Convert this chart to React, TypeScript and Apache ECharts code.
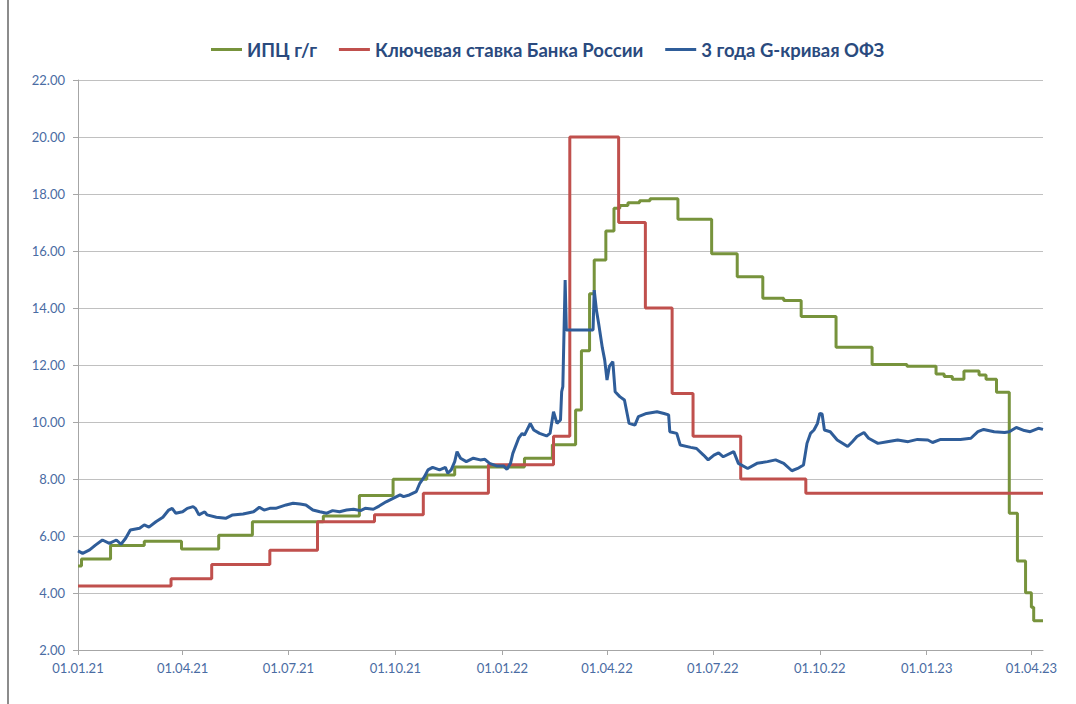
import React, { useEffect, useRef } from "react";
import * as echarts from "echarts";

// ---- Data ----
const seriesNames = ["ИПЦ г/г", "Ключевая ставка Банка России", "3 года G-кривая ОФЗ"];

const xMinDate = "2021-01-01";
const xMaxDate = "2023-04-11";
const xTickDates = [
  "2021-01-01", "2021-04-01", "2021-07-01", "2021-10-01", "2022-01-01",
  "2022-04-01", "2022-07-01", "2022-10-01", "2023-01-01", "2023-04-01",
];

const cpiDates = [
  "2021-01-01", "2021-01-04", "2021-01-29", "2021-02-27", "2021-03-31", "2021-05-02",
  "2021-05-31", "2021-07-31", "2021-08-31", "2021-09-29", "2021-10-28", "2021-11-21",
  "2022-01-20", "2022-02-13", "2022-03-05", "2022-03-10", "2022-03-17", "2022-03-21",
  "2022-03-31", "2022-04-07", "2022-04-12", "2022-04-19", "2022-04-29", "2022-05-08",
  "2022-06-01", "2022-06-30", "2022-07-22", "2022-08-13", "2022-08-31", "2022-09-15",
  "2022-10-15", "2022-11-15", "2022-12-15", "2023-01-09", "2023-01-16", "2023-01-23",
  "2023-02-02", "2023-02-15", "2023-02-21", "2023-03-02", "2023-03-13", "2023-03-20",
  "2023-03-27", "2023-04-01", "2023-04-03", "2023-04-11",
];
const cpiValues = [
  4.95, 5.19, 5.67, 5.82, 5.54, 6.03,
  6.5, 6.7, 7.42, 7.99, 8.14, 8.42,
  8.73, 9.2, 10.42, 12.5, 14.5, 15.68,
  16.7, 17.5, 17.6, 17.69, 17.76, 17.83,
  17.11, 15.9, 15.1, 14.34, 14.26, 13.7,
  12.62, 12.02, 11.96, 11.68, 11.6, 11.5,
  11.79, 11.65, 11.5, 11.04, 6.8, 5.12,
  4.01, 3.5, 3.03, 3.03,
];

const keyRateDates = [
  "2021-01-01", "2021-03-22", "2021-04-26", "2021-06-15", "2021-07-26", "2021-09-13",
  "2021-10-25", "2021-12-20", "2022-02-14", "2022-02-28", "2022-04-11", "2022-05-04",
  "2022-05-27", "2022-06-14", "2022-07-25", "2022-09-19", "2023-04-11",
];
const keyRateValues = [
  4.25, 4.5, 5.0, 5.5, 6.5, 6.75,
  7.5, 8.5, 9.5, 20.0, 17.0, 14.0,
  11.0, 9.5, 8.0, 7.5, 7.5,
];

const ofzDates = [
  "2021-01-01", "2021-01-05", "2021-01-11", "2021-01-16", "2021-01-22", "2021-01-28",
  "2021-02-03", "2021-02-07", "2021-02-11", "2021-02-15", "2021-02-23", "2021-02-27",
  "2021-03-03", "2021-03-09", "2021-03-15", "2021-03-20", "2021-03-23", "2021-03-26",
  "2021-04-01", "2021-04-05", "2021-04-10", "2021-04-12", "2021-04-15", "2021-04-20",
  "2021-04-22", "2021-04-30", "2021-05-08", "2021-05-14", "2021-05-23", "2021-06-01",
  "2021-06-06", "2021-06-10", "2021-06-15", "2021-06-20", "2021-06-29", "2021-07-05",
  "2021-07-11", "2021-07-16", "2021-07-22", "2021-07-28", "2021-08-03", "2021-08-08",
  "2021-08-14", "2021-08-20", "2021-08-26", "2021-09-01", "2021-09-05", "2021-09-12",
  "2021-09-17", "2021-09-23", "2021-09-29", "2021-10-05", "2021-10-08", "2021-10-13",
  "2021-10-19", "2021-10-22", "2021-10-26", "2021-10-29", "2021-11-02", "2021-11-08",
  "2021-11-13", "2021-11-15", "2021-11-18", "2021-11-21", "2021-11-23", "2021-11-26",
  "2021-12-01", "2021-12-07", "2021-12-13", "2021-12-17", "2021-12-21", "2021-12-27",
  "2022-01-02", "2022-01-05", "2022-01-08", "2022-01-10", "2022-01-15", "2022-01-18",
  "2022-01-20", "2022-01-25", "2022-01-28", "2022-02-02", "2022-02-08", "2022-02-11",
  "2022-02-14", "2022-02-17", "2022-02-20", "2022-02-21", "2022-02-22", "2022-02-24",
  "2022-02-25", "2022-03-20", "2022-03-21", "2022-03-23", "2022-03-25", "2022-03-28",
  "2022-03-30", "2022-04-01", "2022-04-03", "2022-04-06", "2022-04-08", "2022-04-12",
  "2022-04-16", "2022-04-20", "2022-04-25", "2022-04-28", "2022-05-05", "2022-05-14",
  "2022-05-20", "2022-05-24", "2022-05-25", "2022-05-31", "2022-06-03", "2022-06-12",
  "2022-06-17", "2022-06-23", "2022-06-27", "2022-07-02", "2022-07-06", "2022-07-10",
  "2022-07-19", "2022-07-23", "2022-07-31", "2022-08-08", "2022-08-17", "2022-08-24",
  "2022-08-31", "2022-09-07", "2022-09-12", "2022-09-17", "2022-09-20", "2022-09-23",
  "2022-09-26", "2022-09-29", "2022-10-01", "2022-10-03", "2022-10-05", "2022-10-10",
  "2022-10-16", "2022-10-25", "2022-10-29", "2022-11-02", "2022-11-08", "2022-11-12",
  "2022-11-20", "2022-11-28", "2022-12-07", "2022-12-16", "2022-12-24", "2023-01-02",
  "2023-01-06", "2023-01-13", "2023-01-22", "2023-01-30", "2023-02-08", "2023-02-14",
  "2023-02-19", "2023-02-28", "2023-03-09", "2023-03-13", "2023-03-19", "2023-03-26",
  "2023-03-31", "2023-04-07", "2023-04-11",
];
const ofzValues = [
  5.48, 5.39, 5.51, 5.68, 5.86, 5.74,
  5.86, 5.71, 5.92, 6.21, 6.27, 6.39,
  6.31, 6.5, 6.66, 6.91, 6.97, 6.8,
  6.85, 6.97, 7.03, 6.97, 6.74, 6.85,
  6.74, 6.66, 6.62, 6.74, 6.77, 6.85,
  7.01, 6.91, 6.97, 6.97, 7.09, 7.15,
  7.12, 7.09, 6.91, 6.85, 6.8, 6.89,
  6.85, 6.91, 6.94, 6.89, 6.97, 6.94,
  7.05, 7.2, 7.32, 7.44, 7.38, 7.44,
  7.56, 7.85, 8.08, 8.32, 8.41, 8.32,
  8.41, 8.2, 8.32, 8.61, 8.96, 8.73,
  8.61, 8.73, 8.67, 8.69, 8.55, 8.46,
  8.46, 8.34, 8.55, 8.9, 9.43, 9.6,
  9.54, 9.95, 9.72, 9.6, 9.51, 9.6,
  10.36, 9.95, 10.07, 11.06, 11.24, 14.98,
  13.23, 13.23, 14.63, 13.9, 13.4, 12.6,
  12.18, 11.47, 11.95, 12.12, 11.06, 10.89,
  10.77, 9.95, 9.89, 10.19, 10.3, 10.36,
  10.3, 10.25, 9.66, 9.6, 9.19, 9.11,
  9.07, 8.84, 8.67, 8.84, 8.92, 8.78,
  8.96, 8.55, 8.37, 8.55, 8.61, 8.67,
  8.55, 8.29, 8.37, 8.49, 9.25, 9.6,
  9.72, 9.95, 10.3, 10.28, 9.72, 9.66,
  9.37, 9.14, 9.31, 9.49, 9.63, 9.43,
  9.25, 9.31, 9.37, 9.31, 9.39, 9.37,
  9.28, 9.39, 9.39, 9.39, 9.43, 9.66,
  9.74, 9.66, 9.63, 9.66, 9.81, 9.7,
  9.66, 9.78, 9.74,
];

// ---- helpers ----
function ts(s: string): number {
  const [y, m, d] = s.split("-").map(Number);
  return new Date(y, m - 1, d).getTime();
}
function fmtDate(v: number): string {
  const d = new Date(v);
  const p = (n: number) => (n < 10 ? "0" + n : "" + n);
  return p(d.getDate()) + "." + p(d.getMonth() + 1) + "." + p(d.getFullYear() % 100);
}
function pairs(dates: string[], values: number[]) {
  return dates.map((d, i) => [ts(d), values[i]]);
}

const LABEL_COLOR = "#4A6CA3";
const AXIS_COLOR = "#A6A6A6";
const FONT = "Lato, 'Open Sans', sans-serif";

export default function App() {
  const ref = useRef<HTMLDivElement>(null);

  useEffect(() => {
    document.body.style.margin = "0";
    if (!ref.current) return;
    const chart = echarts.init(ref.current, null, { renderer: "svg" });
    const xTicks = xTickDates.map(ts);

    chart.setOption({
      animation: false,
      backgroundColor: "#FFFFFF",
      textStyle: { fontFamily: FONT },
      grid: { left: 78, right: 33, top: 80, bottom: 54 },
      legend: {
        top: 35,
        left: 206,
        icon: "rect",
        itemWidth: 31,
        itemHeight: 3,
        itemGap: 22,
        textStyle: { fontFamily: FONT, fontWeight: "bold", fontSize: 18.5, color: "#2A4A7E" },
        data: seriesNames,
      },
      xAxis: {
        type: "value",
        min: ts(xMinDate),
        max: ts(xMaxDate),
        scale: true,
        axisLine: { show: true, lineStyle: { color: AXIS_COLOR, width: 1 } },
        axisTick: { show: true, length: 5, customValues: xTicks, lineStyle: { color: AXIS_COLOR } },
        axisLabel: {
          customValues: xTicks,
          formatter: (v: number) => fmtDate(v),
          color: LABEL_COLOR,
          fontSize: 13,
          fontFamily: FONT,
          margin: 11,
          hideOverlap: false,
          showMinLabel: true,
          showMaxLabel: true,
        },
        splitLine: { show: false },
      },
      yAxis: {
        type: "value",
        min: 2,
        max: 22,
        interval: 2,
        axisLine: { show: true, lineStyle: { color: AXIS_COLOR, width: 1 } },
        axisTick: { show: true, length: 5, lineStyle: { color: AXIS_COLOR } },
        axisLabel: {
          formatter: (v: number) => v.toFixed(2),
          color: LABEL_COLOR,
          fontSize: 13,
          fontFamily: FONT,
          margin: 13,
        },
        splitLine: { show: true, lineStyle: { color: "#C0C0C0", width: 1 } },
      },
      series: [
        {
          name: seriesNames[0],
          type: "line",
          step: "end",
          showSymbol: false,
          data: pairs(cpiDates, cpiValues),
          lineStyle: { color: "#77933C", width: 3 },
          itemStyle: { color: "#77933C" },
        },
        {
          name: seriesNames[1],
          type: "line",
          step: "end",
          showSymbol: false,
          data: pairs(keyRateDates, keyRateValues),
          lineStyle: { color: "#C0504D", width: 3 },
          itemStyle: { color: "#C0504D" },
        },
        {
          name: seriesNames[2],
          type: "line",
          showSymbol: false,
          data: pairs(ofzDates, ofzValues),
          lineStyle: { color: "#2F5D99", width: 3 },
          itemStyle: { color: "#2F5D99" },
        },
      ],
      graphic: [
        {
          type: "line",
          shape: { x1: 8, y1: 0, x2: 8, y2: 704 },
          style: { stroke: "#8C8C8C", lineWidth: 2 },
        },
      ],
    });

    return () => chart.dispose();
  }, []);

  return (
    <div
      ref={ref}
      style={{ position: "absolute", left: 0, top: 0, width: 1076, height: 704, background: "#fff" }}
    />
  );
}
